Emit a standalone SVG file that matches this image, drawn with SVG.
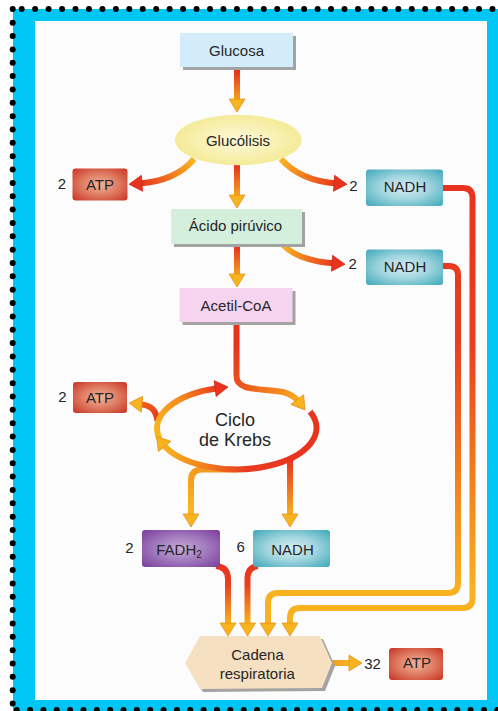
<svg xmlns="http://www.w3.org/2000/svg" width="498" height="711" viewBox="0 0 498 711">
<style>
text{font-family:"Liberation Sans",Arial,"Helvetica",sans-serif;font-size:15px;fill:#262626;text-anchor:middle}
.big{font-size:18px}
.sh{fill:#a3a3a3}
.c{fill:none;stroke-width:6;stroke-linejoin:round}
.dots{fill:none;stroke:#000;stroke-width:6;stroke-linecap:round}
</style>
<defs>
<marker id="hy" viewBox="0 0 13 16" markerWidth="13" markerHeight="16" refX="3" refY="8" orient="auto" markerUnits="userSpaceOnUse" overflow="visible"><path d="M0,0 L13,8 L0,16 Z" fill="#f8b41f" stroke="#e48a14" stroke-width="0.7"/></marker>
<marker id="hr" viewBox="0 0 13 16" markerWidth="13" markerHeight="16" refX="3" refY="8" orient="auto" markerUnits="userSpaceOnUse" overflow="visible"><path d="M0,0 L13,8 L0,16 Z" fill="#e8341f" stroke="#c82414" stroke-width="0.7"/></marker>
<linearGradient id="g1" gradientUnits="userSpaceOnUse" x1="0" y1="72" x2="0" y2="104"><stop offset="0" stop-color="#e8341f"/><stop offset="1" stop-color="#f8b41f"/></linearGradient>
<linearGradient id="g2" gradientUnits="userSpaceOnUse" x1="194" y1="160" x2="140" y2="184"><stop offset="0" stop-color="#f8b41f"/><stop offset="1" stop-color="#e8341f"/></linearGradient>
<linearGradient id="g3" gradientUnits="userSpaceOnUse" x1="281" y1="160" x2="337" y2="184"><stop offset="0" stop-color="#f8b41f"/><stop offset="1" stop-color="#e8341f"/></linearGradient>
<linearGradient id="g4" gradientUnits="userSpaceOnUse" x1="0" y1="166" x2="0" y2="200"><stop offset="0" stop-color="#e8341f"/><stop offset="1" stop-color="#f8b41f"/></linearGradient>
<linearGradient id="g5" gradientUnits="userSpaceOnUse" x1="283" y1="246" x2="335" y2="264"><stop offset="0" stop-color="#f8b41f"/><stop offset="1" stop-color="#e8341f"/></linearGradient>
<linearGradient id="g6" gradientUnits="userSpaceOnUse" x1="0" y1="247" x2="0" y2="280"><stop offset="0" stop-color="#e8341f"/><stop offset="1" stop-color="#f8b41f"/></linearGradient>
<linearGradient id="g7" gradientUnits="userSpaceOnUse" x1="236" y1="345" x2="300" y2="404"><stop offset="0" stop-color="#e8341f"/><stop offset="0.35" stop-color="#ec521e"/><stop offset="1" stop-color="#f8b41f"/></linearGradient>
<linearGradient id="gRA" gradientUnits="userSpaceOnUse" x1="305" y1="0" x2="160" y2="0"><stop offset="0" stop-color="#e8341f"/><stop offset="0.4" stop-color="#e93a1f"/><stop offset="0.75" stop-color="#f28a1d"/><stop offset="1" stop-color="#f8b81f"/></linearGradient>
<linearGradient id="gRB" gradientUnits="userSpaceOnUse" x1="160" y1="440" x2="222" y2="388"><stop offset="0" stop-color="#f8b81f"/><stop offset="0.5" stop-color="#f38e1d"/><stop offset="1" stop-color="#e8341f"/></linearGradient>
<linearGradient id="gAt" gradientUnits="userSpaceOnUse" x1="157" y1="421" x2="139" y2="404"><stop offset="0" stop-color="#e8341f"/><stop offset="1" stop-color="#f0661e"/></linearGradient>
<linearGradient id="gF" gradientUnits="userSpaceOnUse" x1="0" y1="470" x2="0" y2="517"><stop offset="0" stop-color="#f39a1d"/><stop offset="1" stop-color="#f8bb1f"/></linearGradient>
<linearGradient id="gN" gradientUnits="userSpaceOnUse" x1="0" y1="460" x2="0" y2="517"><stop offset="0" stop-color="#e8341f"/><stop offset="1" stop-color="#f8b41f"/></linearGradient>
<linearGradient id="gD" gradientUnits="userSpaceOnUse" x1="0" y1="568" x2="0" y2="624"><stop offset="0" stop-color="#e8341f"/><stop offset="0.3" stop-color="#ea401e"/><stop offset="1" stop-color="#f8b41f"/></linearGradient>
<linearGradient id="gL" gradientUnits="userSpaceOnUse" x1="0" y1="188" x2="0" y2="636"><stop offset="0" stop-color="#e8341f"/><stop offset="0.35" stop-color="#ea3e1e"/><stop offset="0.7" stop-color="#f38a1d"/><stop offset="0.9" stop-color="#f8b21f"/></linearGradient>
<linearGradient id="gC" gradientUnits="userSpaceOnUse" x1="330" y1="0" x2="352" y2="0"><stop offset="0" stop-color="#f39a1d"/><stop offset="1" stop-color="#f8b81f"/></linearGradient>
<radialGradient id="rATP" cx="50%" cy="50%" r="70%"><stop offset="0" stop-color="#efb39c"/><stop offset="0.45" stop-color="#e08066"/><stop offset="1" stop-color="#c83422"/></radialGradient>
<radialGradient id="rNADH" cx="50%" cy="50%" r="70%"><stop offset="0" stop-color="#d6eef2"/><stop offset="0.45" stop-color="#a3d6df"/><stop offset="1" stop-color="#3ea8ba"/></radialGradient>
<radialGradient id="rFAD" cx="50%" cy="50%" r="70%"><stop offset="0" stop-color="#c5a9d6"/><stop offset="0.45" stop-color="#a47ebf"/><stop offset="1" stop-color="#7a3d9d"/></radialGradient>
<radialGradient id="rGlu" cx="50%" cy="50%" r="60%"><stop offset="0" stop-color="#fdf9dc"/><stop offset="1" stop-color="#f3e88a"/></radialGradient>
</defs>

<g id="frame">
<rect x="13" y="9" width="485" height="702" fill="#00c6f6"/>
<rect x="35" y="21" width="452" height="679" fill="#fcfcfc"/>
<circle cx="12.7" cy="9" r="3" fill="#000"/>
<path class="dots" stroke-dasharray="0 13.45" d="M21.7,9 H496"/>
<path class="dots" stroke-dasharray="0 13.35" d="M12.7,22.7 V705"/>
<path class="dots" stroke-dasharray="0 13.35" d="M16.7,710 H498"/>
</g>

<g id="connectors">
<path class="c" stroke="url(#g1)" marker-end="url(#hy)" d="M237,70 V102"/>
<path class="c" stroke="url(#g2)" marker-end="url(#hr)" d="M194,159 C180,176 160,182 139,183.5"/>
<path class="c" stroke="url(#g3)" marker-end="url(#hr)" d="M281,159 C296,176 316,182 337,183.5"/>
<path class="c" stroke="url(#g4)" marker-end="url(#hy)" d="M237,164 V198"/>
<path class="c" stroke="url(#g5)" marker-end="url(#hr)" d="M283,245 C296,258 315,262 335,263.5"/>
<path class="c" stroke="url(#g6)" marker-end="url(#hy)" d="M237,245 V277"/>
<path class="c" stroke="url(#g7)" marker-end="url(#hy)" d="M236.5,325 V376 C236.5,392 262,388 283,392 C290,394 296,398 299,402"/>
<path class="c" stroke="url(#gAt)" marker-end="url(#hy)" d="M157.5,421 C156,409 150,405 139,404"/>
<path class="c" stroke="url(#gF)" marker-end="url(#hy)" d="M236,469.5 H202 Q191,469.5 191,481 V517"/>
<path class="c" stroke="url(#gN)" marker-end="url(#hy)" d="M290,459 V517"/>
<path class="c" stroke="url(#gRB)" marker-end="url(#hr)" d="M159.4,438.5 A80,41.5 0 0 1 218.1,388.2"/>
<path class="c" stroke="url(#gRA)" marker-end="url(#hy)" d="M310.1,411.6 A80,41.5 0 1 1 162.8,444.05"/>
<path class="c" stroke="url(#gD)" marker-end="url(#hy)" d="M216,566 Q228,567 228,579 V626"/>
<path class="c" stroke="url(#gD)" marker-end="url(#hy)" d="M258,566 Q247.5,567 247.5,579 V626"/>
<path class="c" stroke="url(#gL)" marker-end="url(#hy)" d="M443,266 H449 Q458,266 458,275 V583 Q458,593 448,593 H278 Q268,593 268,603 V626"/>
<path class="c" stroke="url(#gL)" marker-end="url(#hy)" d="M443,188 H463 Q472.5,188 472.5,198 V598 Q472.5,608 462.5,608 H300 Q290,608 290,618 V626"/>
<path class="c" stroke="url(#gC)" marker-end="url(#hy)" d="M330,663 H352"/>
</g>

<g id="glucosa">
<rect class="sh" x="183" y="36" width="113" height="34"/>
<rect x="180" y="33" width="113" height="34" fill="#d3ecf9"/>
<text x="236.5" y="56">Glucosa</text>
</g>

<g id="glucolisis">
<ellipse cx="238.3" cy="140" rx="63.3" ry="25.3" fill="url(#rGlu)"/>
<text x="238" y="145.5">Glucólisis</text>
</g>

<g id="atp1">
<text x="62" y="189">2</text>
<rect x="72.5" y="168.5" width="55" height="32" rx="3" fill="url(#rATP)"/>
<text x="100" y="190">ATP</text>
</g>

<g id="nadh1">
<text x="353.3" y="190.5">2</text>
<rect x="366" y="169.5" width="77" height="36.5" rx="3" fill="url(#rNADH)"/>
<text x="405" y="192">NADH</text>
</g>

<g id="acido-piruvico">
<rect class="sh" x="174" y="212" width="131" height="35"/>
<rect x="171" y="209" width="131" height="35" fill="#d4efdc"/>
<text x="235.5" y="230.5">Ácido pirúvico</text>
</g>

<g id="nadh2">
<text x="352.7" y="268.7">2</text>
<rect x="366" y="249.5" width="77" height="35.5" rx="3" fill="url(#rNADH)"/>
<text x="405" y="272">NADH</text>
</g>

<g id="acetil-coa">
<rect class="sh" x="182.5" y="291" width="113" height="34"/>
<rect x="179.5" y="288" width="113" height="34" fill="#f6d4f0"/>
<text x="236" y="310.5">Acetil-CoA</text>
</g>

<g id="atp2">
<text x="62.3" y="402">2</text>
<rect x="73" y="382" width="54" height="31" rx="3" fill="url(#rATP)"/>
<text x="100" y="403">ATP</text>
</g>

<g id="ciclo-krebs">
<text class="big" x="235" y="425.7">Ciclo</text>
<text class="big" x="235" y="445.7">de Krebs</text>
</g>

<g id="fadh2">
<text x="129.3" y="553">2</text>
<rect x="142" y="530" width="78" height="37" rx="3" fill="url(#rFAD)"/>
<text x="179" y="554.5" fill="#2a2438">FADH<tspan font-size="10" dy="3">2</tspan></text>
</g>

<g id="nadh3">
<text x="240.7" y="552">6</text>
<rect x="253" y="530" width="77" height="37" rx="3" fill="url(#rNADH)"/>
<text x="292.5" y="554.5">NADH</text>
</g>

<g id="cadena-respiratoria">
<polygon class="sh" points="203,639 323,639 335,666 325,691 203,692 188,666"/>
<polygon points="200,636 320,636 332,663 322,688 200,689 185,663" fill="#f6e0c2"/>
<text x="257.5" y="659.7">Cadena</text>
<text x="257.3" y="678.7">respiratoria</text>
</g>

<g id="atp3">
<text x="372.5" y="668.7">32</text>
<rect x="389" y="648" width="54" height="32" rx="3" fill="url(#rATP)"/>
<text x="417" y="668">ATP</text>
</g>
</svg>
